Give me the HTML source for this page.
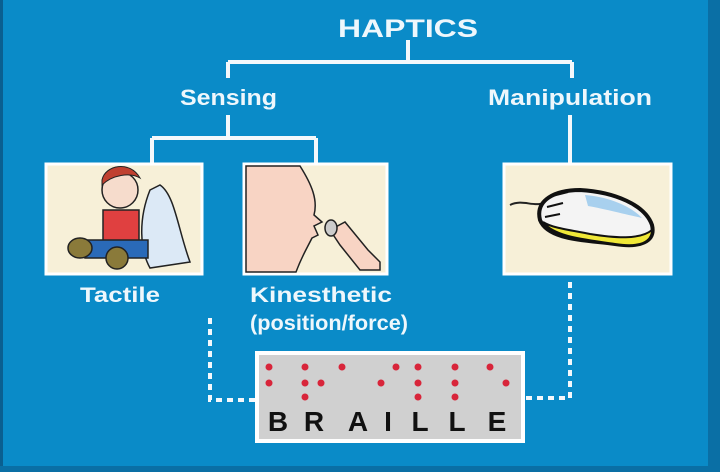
<!DOCTYPE html>
<html><head><style>
html,body{margin:0;padding:0;background:#0a8bc8;}
svg{display:block}
text{font-family:"Liberation Sans",sans-serif;font-weight:bold;fill:#eef7fc}
</style></head><body>
<svg width="720" height="472" viewBox="0 0 720 472" xmlns="http://www.w3.org/2000/svg">
<rect width="720" height="472" fill="#0a8bc8"/>
<rect x="0" y="0" width="3" height="472" fill="#0a5f90"/>
<rect x="708" y="0" width="12" height="472" fill="#0a6fa5"/>
<rect x="0" y="466" width="720" height="6" fill="#0a6fa5"/>
<g stroke="#f4f8fb" stroke-width="4" fill="none">
<path d="M408 40V62M228 62H572M228 62V78M572 62V78"/>
<path d="M228 115V138M152 138H316M152 138V163M316 138V163"/>
<path d="M570 115V163"/>
</g>
<g stroke="#f4f8fb" stroke-width="4" fill="none" stroke-dasharray="6 5">
<path d="M210 318V400H256"/>
<path d="M570 282V398H524"/>
</g>
<text x="338" y="37" font-size="25" textLength="140" lengthAdjust="spacingAndGlyphs">HAPTICS</text>
<text x="180" y="105" font-size="22" textLength="97" lengthAdjust="spacingAndGlyphs">Sensing</text>
<text x="488" y="105" font-size="22" textLength="164" lengthAdjust="spacingAndGlyphs">Manipulation</text>
<text x="80" y="302" font-size="21" textLength="80" lengthAdjust="spacingAndGlyphs">Tactile</text>
<text x="250" y="302" font-size="21" textLength="142" lengthAdjust="spacingAndGlyphs">Kinesthetic</text>
<text x="250" y="330" font-size="21" textLength="158" lengthAdjust="spacingAndGlyphs">(position/force)</text>
<!-- boxes -->
<rect x="46" y="164" width="156" height="110" fill="#f7f0d8" stroke="#fff" stroke-width="3"/>
<rect x="244" y="164" width="143" height="110" fill="#f7f0d8" stroke="#fff" stroke-width="3"/>
<rect x="504" y="164" width="167" height="110" fill="#f7f0d8" stroke="#fff" stroke-width="3"/>
<!-- kinesthetic face -->
<path d="M246 166H300C312 185 318 200 314 215L322 222L314 226L318 235L312 238C306 250 302 256 296 272H246Z" fill="#f8d4c4" stroke="#222" stroke-width="1.5"/>
<path d="M330 230L345 222L368 250L380 262L380 270L360 270L340 245Z" fill="#f8d4c4" stroke="#222" stroke-width="1.5"/>
<ellipse cx="331" cy="228" rx="6" ry="8" fill="#ccc" stroke="#222" stroke-width="1.5"/>
<!-- tactile child -->
<path d="M160 185C175 195 178 230 190 262L150 268C140 250 138 220 150 190Z" fill="#dce9f6" stroke="#222" stroke-width="1.5"/>
<rect x="103" y="210" width="36" height="32" fill="#e04040" stroke="#222" stroke-width="1.5"/>
<path d="M85 240H148V258H85Z" fill="#2a6ab8" stroke="#222" stroke-width="1.5"/>
<circle cx="120" cy="190" r="18" fill="#f6dccc" stroke="#222" stroke-width="1.5"/>
<path d="M102 180C105 165 130 160 140 178C130 172 112 175 102 185Z" fill="#c04030" stroke="#222" stroke-width="1"/>
<ellipse cx="80" cy="248" rx="12" ry="10" fill="#8a7a3a" stroke="#222" stroke-width="1.5"/>
<ellipse cx="117" cy="258" rx="11" ry="11" fill="#8a7a3a" stroke="#222" stroke-width="1.5"/>
<!-- mouse -->
<path d="M510 205C525 198 535 210 550 200" stroke="#222" stroke-width="2" fill="none"/>
<path d="M540 220C535 200 555 190 580 190C615 192 645 205 652 225C656 242 640 248 615 244C585 240 548 240 540 220Z" fill="#f4f4f4" stroke="#111" stroke-width="4"/>
<path d="M543 222C555 238 590 240 615 244C640 248 652 242 652 230C640 240 615 238 590 234C570 230 552 228 543 222Z" fill="#f0e838" stroke="#111" stroke-width="2"/>
<path d="M585 195C610 197 632 207 642 218C620 213 600 208 588 206Z" fill="#a8d0ee"/>
<path d="M552 196L568 192M547 207L563 203M545 217L560 214" stroke="#111" stroke-width="2"/>
<!-- braille -->
<rect x="257" y="353" width="266" height="88" fill="#d0d0d0" stroke="#fff" stroke-width="4"/>
<g fill="#d8253a">
<circle cx="269" cy="367" r="3.5"/><circle cx="305" cy="367" r="3.5"/><circle cx="342" cy="367" r="3.5"/><circle cx="396" cy="367" r="3.5"/><circle cx="418" cy="367" r="3.5"/><circle cx="455" cy="367" r="3.5"/><circle cx="490" cy="367" r="3.5"/>
<circle cx="269" cy="383" r="3.5"/><circle cx="305" cy="383" r="3.5"/><circle cx="321" cy="383" r="3.5"/><circle cx="381" cy="383" r="3.5"/><circle cx="418" cy="383" r="3.5"/><circle cx="455" cy="383" r="3.5"/><circle cx="506" cy="383" r="3.5"/>
<circle cx="305" cy="397" r="3.5"/><circle cx="418" cy="397" r="3.5"/><circle cx="455" cy="397" r="3.5"/>
</g>
<g font-size="28" text-anchor="middle">
<text x="278" y="431" style="fill:#111">B</text>
<text x="314" y="431" style="fill:#111">R</text>
<text x="358" y="431" style="fill:#111">A</text>
<text x="388" y="431" style="fill:#111">I</text>
<text x="420" y="431" style="fill:#111">L</text>
<text x="457" y="431" style="fill:#111">L</text>
<text x="497" y="431" style="fill:#111">E</text>
</g>
</svg>
</body></html>
